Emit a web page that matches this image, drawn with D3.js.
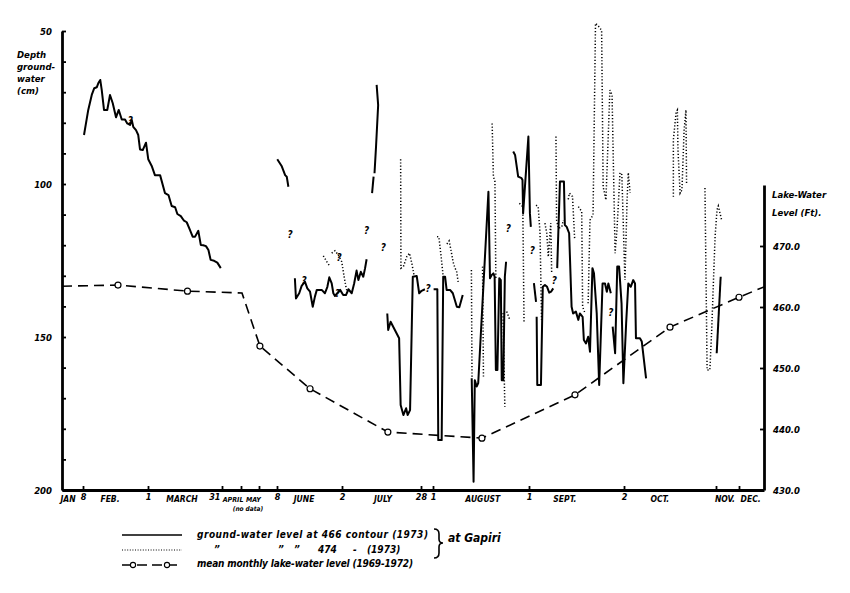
<!DOCTYPE html>
<html>
<head>
<meta charset="utf-8">
<script src="https://cdn.jsdelivr.net/npm/d3@7"></script>
<style>
  body { margin: 0; background: #fff; }
  text { font-family: "Liberation Sans Narrow", "DejaVu Sans Condensed", "DejaVu Sans", sans-serif; font-style: italic; font-weight: bold; fill: #000; }
</style>
</head>
<body>
<svg width="850" height="593"></svg>
<script>
// hand drawn time axis: day of year 1973 at the stops of the paper scale
const dayStops = [0, 8, 60, 90, 120, 151, 159, 183, 209, 213, 244, 275, 305, 335, 365];
const tickDays = [8, 60, 90, 120, 151, 159, 183, 209, 213, 244, 275, 305, 335];
const tickNames = ["8", "1", "31", "", "", "8", "2", "28", "1", "1", "2", "", ""];
const monthNames = ["JAN", "FEB.", "MARCH", "APRIL", "MAY", "JUNE", "JULY", "AUGUST", "SEPT.", "OCT.", "NOV.", "DEC."];
const monthDays = [2.3, 29.6, 73.8, 107.5, 141.5, 169, 196.5, 229.1, 255.7, 286.7, 316.7, 349];
const depthTicks = [50, 60, 70, 80, 90, 100, 110, 120, 130, 140, 150, 160, 170, 180, 190, 200];
const lakeTicks = [430, 440, 450, 460, 470];

// ground-water level at 466 contour, [day, depth cm], one list per drawn stretch
const ground466 = [
  [[8.8,84.0],[12.2,75.8],[15.0,70.9],[17.0,68.7],[19.0,68.4],[20.2,67.1],[21.8,66.0],[23.0,69.3],[24.8,75.8],[27.4,75.8],
   [29.6,70.9],[31.8,73.6],[34.4,78.2],[36.6,75.8],[39.0,78.9],[41.6,78.9],[43.4,80.2],[45.6,80.7],[47.0,79.1],[48.2,81.3],
   [50.4,82.4],[52.2,84.0],[53.6,88.7],[55.8,88.9],[58.4,86.5],[60.1,91.9],[61.5,94.1],[62.8,97.1],[64.9,97.1],[66.9,103.0],
   [68.3,103.6],[69.6,107.2],[71.0,107.6],[71.9,109.8],[73.3,110.5],[74.6,112.0],[75.7,112.5],[77.0,115.0],[78.1,117.2],
   [79.1,117.2],[80.4,115.3],[81.4,119.9],[82.4,120.0],[83.5,120.3],[84.5,121.6],[85.4,124.8],[86.8,125.1],[88.1,125.7],[89.5,127.5]],
  [[159.1,91.9],[160.7,94.1],[162.0,97.1],[162.6,97.6],[163.2,100.9]],
  [[165.6,130.8],[166.0,137.4],[167.2,135.7],[168.1,133.3],[169.3,131.9],[170.2,134.1],[171.2,135.2],[172.2,140.1],[173.0,136.8],
   [173.7,134.6],[175.5,134.6],[176.7,135.7],[177.6,133.6],[178.3,130.5],[179.2,132.5],[179.8,135.7],[180.4,136.6],[182.3,134.6],
   [183.4,136.3],[184.3,136.3],[185.1,134.4],[186.2,135.7],[187.0,132.5],[187.8,128.3],[188.4,131.4],[189.2,128.7],[190.0,130.3],
   [190.6,127.5],[191.1,124.6]],
  [[192.9,103.0],[193.4,97.6]],
  [[193.7,96.5],[194.2,87.8],[194.9,74.2],[194.4,67.6]],
  [[197.9,142.3],[198.2,147.7],[199.0,145.0],[200.4,147.7],[201.8,150.4],[202.3,172.2],[203.2,175.5],[204.1,173.3],[204.6,175.5],
   [205.4,173.9],[206.3,130.3],[207.6,130.1],[208.4,135.7],[209.2,134.9],[210.3,134.4]],
  [[213.2,134.4],[214.4,134.4],[214.7,183.7],[215.8,183.7],[216.3,130.3],[216.9,130.3],[217.4,134.6],[218.5,134.6],[219.4,135.7],
   [220.7,140.1],[221.5,140.3],[222.6,136.3]],
  [[225.5,163.5],[226.1,197.3],[226.5,164.1],[227.1,166.2],[227.6,165.1],[230.9,102.5],[231.4,130.8],[232.0,129.7],[232.5,129.2],
   [232.9,130.3],[233.3,160.8],[233.8,160.8],[234.4,130.8],[234.9,131.4],[235.2,164.1],[235.7,164.1],[236.2,130.3],[236.6,125.4]],
  [[238.9,89.4],[239.5,90.5],[240.5,97.6],[241.6,98.1],[241.9,98.7],[242.1,109.6],[243.8,84.5],[244.3,109.6],[244.6,114.0]],
  [[245.6,132.4],[246.3,138.5]],
  [[246.5,143.4],[246.7,165.7],[247.9,165.7],[248.5,133.6],[249.2,133.0],[249.9,133.6],[250.6,135.5],[251.2,135.2],[251.9,134.1]],
  [[253.2,127.5],[254.1,99.2],[255.4,99.2],[255.7,113.4],[256.3,114.0],[257.1,116.1],[257.9,140.1],[258.4,142.3],[259.3,141.7],
   [260.1,144.4],[260.6,142.3],[261.5,143.4],[261.9,151.0],[262.6,152.1],[263.3,149.9],[263.9,154.8],[264.7,127.5],[265.2,129.2],
   [266.1,142.3],[266.9,165.7],[268.0,132.5],[268.8,132.5],[269.4,135.2],[269.9,132.5],[270.7,135.7]],
  [[271.3,146.6],[272.1,155.3],[272.8,127.0],[273.4,127.0],[274.2,139.0],[274.8,165.1],[275.7,145.5],[276.4,132.5],[277.2,133.6],
   [278.0,131.4],[278.6,132.5],[278.9,150.4],[280.2,150.4],[280.8,151.5],[282.2,163.5]],
  [[305.9,155.3],[311.1,130.3]]
];

// ground-water level at 474 contour
const ground474 = [
  [[176.1,123.5],[177.4,125.4],[178.6,127.0]],
  [[179.2,122.6],[180.4,121.8],[181.6,123.2],[182.9,125.4],[183.7,130.3],[184.3,133.6],[184.8,135.7]],
  [[202.3,91.9],[202.4,127.5],[203.2,127.0],[204.3,123.8],[205.2,122.6],[206.0,126.0],[206.7,129.8]],
  [[214.3,117.2],[214.9,117.3],[215.6,123.5],[216.3,130.3]],
  [[217.5,119.6],[218.2,118.6],[218.8,121.6],[219.5,125.5],[220.1,127.5],[220.6,128.4],[221.2,132.5]],
  [[225.4,128.1],[225.6,163.1]],
  [[229.0,127.0],[229.3,163.6]],
  [[232.1,80.2],[232.5,97.6],[233.0,99.2],[233.3,131.4]],
  [[235.6,142.2],[236.2,172.8]],
  [[236.8,141.7],[237.8,144.4]],
  [[240.9,106.3],[242.0,107.4],[242.4,145.5]],
  [[246.3,106.9],[247.0,107.4],[247.6,116.1],[248.1,144.4]],
  [[249.2,112.8],[249.8,116.1],[250.3,123.8],[251.1,112.8],[251.4,129.2]],
  [[252.8,84.5],[253.0,111.8],[253.6,114.5],[254.7,114.0],[255.2,111.8]],
  [[256.8,105.0],[257.2,103.0],[258.2,104.1],[258.9,118.0]],
  [[260.1,107.4],[261.2,109.0],[261.5,140.1],[262.3,142.3]],
  [[263.3,139.0],[263.9,111.8],[264.9,110.1],[265.7,47.5],[266.5,48.2],[267.7,49.8],[268.2,100.9],[269.1,105.2],[270.4,69.3],
   [271.1,70.9],[272.1,122.6],[272.7,115.0],[273.7,96.3],[274.3,97.0],[275.3,131.4],[276.0,105.2],[276.4,96.3],[277.0,102.9]],
  [[291.1,104.2],[291.1,85.6],[292.0,76.5],[292.4,75.8],[292.6,88.9],[293.3,103.0],[293.9,101.9],[294.6,82.4],[295.2,75.8],[295.4,99.8]],
  [[301.4,101.3],[302.1,160.8],[303.0,160.8],[303.6,147.7],[304.1,133.7],[304.7,117.3],[306.3,108.5],[308.0,107.2],[310.2,109.5],[312.4,111.8]]
];

// mean monthly lake-water level (1969-1972), ft
const lakeDays = [0, 36, 76, 121.7, 151.4, 171.2, 198.1, 228.8, 259, 290, 335, 365];
const lakeLevels = [463.4, 463.6, 462.6, 462.3, 453.6, 446.6, 439.5, 438.5, 445.6, 456.7, 461.6, 463.3];
const lakeMarked = [false, true, true, false, true, true, true, true, true, true, true, false];

// doubtful readings marked "?"
const queryDays = [45.8, 163.8, 169.0, 181.9, 181.4, 191.1, 196.6, 211.4, 237.3, 245.1, 252.3, 270.7];
const queryDepths = [79.1, 116.3, 131.4, 123.8, 135.7, 115.0, 120.5, 134.1, 114.5, 121.6, 131.4, 141.7];

const svg = d3.select("svg");
const plotLeft = 62, plotRight = 764, plotTop = 31, plotBottom = 490;

const x = d3.scaleLinear()
  .domain(dayStops)
  .range([62, 83, 148, 222, 241, 259, 277, 342, 421, 433, 529, 624, 716, 739, 764]);
const y = d3.scaleLinear().domain([50, 200]).range([plotTop, plotBottom]);
const yLake = d3.scaleLinear().domain([430, 480]).range([plotBottom, 185]);

function styleAxis(g, size) {
  g.select(".domain").attr("stroke", "#000").attr("stroke-width", 2.8);
  g.selectAll(".tick line").attr("stroke", "#000").attr("stroke-width", 1.8);
  g.selectAll(".tick text").attr("font-size", size).attr("font-family", null);
}

// left axis
const gLeft = svg.append("g")
  .attr("transform", `translate(${plotLeft},0)`)
  .call(d3.axisLeft(y).tickValues(depthTicks).tickSizeInner(-4).tickSizeOuter(0).tickPadding(10)
    .tickFormat(d => d % 50 === 0 ? d : ""));
styleAxis(gLeft, 9.5);

// right axis
const gRight = svg.append("g")
  .attr("transform", `translate(${plotRight},0)`)
  .call(d3.axisRight(yLake).tickValues(lakeTicks).tickSizeInner(-4).tickSizeOuter(0).tickPadding(9)
    .tickFormat(d3.format(".1f")));
styleAxis(gRight, 9.5);

// bottom axis
const gBottom = svg.append("g")
  .attr("transform", `translate(0,${plotBottom})`)
  .call(d3.axisBottom(x).tickValues(tickDays).tickSizeInner(-4).tickSizeOuter(0).tickPadding(4)
    .tickFormat((d, i) => tickNames[i]));
styleAxis(gBottom, 9);
gBottom.selectAll(".tick text").filter(d => d === 90).attr("text-anchor", "end").attr("dx", -2);

svg.append("g").selectAll("text")
  .data(monthNames)
  .join("text")
  .attr("x", (d, i) => x(monthDays[i]))
  .attr("y", 502)
  .attr("text-anchor", "middle")
  .attr("font-size", d => d === "APRIL" || d === "MAY" ? 7 : 8.5)
  .text(d => d);

svg.append("text").attr("x", x(132)).attr("y", 511).attr("text-anchor", "middle")
  .attr("font-size", 6.5).text("(no data)");

// axis titles
const leftTitle = ["Depth", "ground-", "water", "(cm)"];
svg.append("g").selectAll("text")
  .data(leftTitle)
  .join("text")
  .attr("x", 17)
  .attr("y", (d, i) => 58 + i * 12)
  .attr("font-size", 9.5)
  .text(d => d);

const rightTitle = ["Lake-Water", "Level (Ft)."];
svg.append("g").selectAll("text")
  .data(rightTitle)
  .join("text")
  .attr("x", 772)
  .attr("y", (d, i) => 198 + i * 18)
  .attr("font-size", 9.5)
  .text(d => d);

// data
const line = d3.line().x(d => x(d[0])).y(d => y(d[1]));

svg.append("g").selectAll("path")
  .data(ground466)
  .join("path")
  .attr("d", line)
  .attr("fill", "none")
  .attr("stroke", "#000")
  .attr("stroke-width", 2)
  .attr("stroke-linejoin", "round");

svg.append("g").selectAll("path")
  .data(ground474)
  .join("path")
  .attr("d", line)
  .attr("fill", "none")
  .attr("stroke", "#000")
  .attr("stroke-width", 1.5)
  .attr("stroke-dasharray", "1.2,2");

const lakePts = lakeDays.map((d, i) => [d, lakeLevels[i]]);
const lakeLine = d3.line().x(d => x(d[0])).y(d => yLake(d[1]));
svg.append("path")
  .attr("d", lakeLine(lakePts))
  .attr("fill", "none")
  .attr("stroke", "#000")
  .attr("stroke-width", 1.6)
  .attr("stroke-dasharray", "10,6");

svg.append("g").selectAll("circle")
  .data(lakePts.filter((d, i) => lakeMarked[i]))
  .join("circle")
  .attr("cx", d => x(d[0]))
  .attr("cy", d => yLake(d[1]))
  .attr("r", 3)
  .attr("fill", "#fff")
  .attr("stroke", "#000")
  .attr("stroke-width", 1.2);

svg.append("g").selectAll("text")
  .data(queryDays)
  .join("text")
  .attr("x", d => x(d))
  .attr("y", (d, i) => y(queryDepths[i]) + 4)
  .attr("text-anchor", "middle")
  .attr("font-size", 10)
  .text("?");

// legend
const lg = svg.append("g");
lg.append("line").attr("x1", 122).attr("x2", 182).attr("y1", 535).attr("y2", 535)
  .attr("stroke", "#000").attr("stroke-width", 1.3);
lg.append("line").attr("x1", 122).attr("x2", 182).attr("y1", 550).attr("y2", 550)
  .attr("stroke", "#000").attr("stroke-width", 1.2).attr("stroke-dasharray", "1,1.6");
lg.append("line").attr("x1", 122).attr("x2", 182).attr("y1", 565).attr("y2", 565)
  .attr("stroke", "#000").attr("stroke-width", 1.5).attr("stroke-dasharray", "10,5");
lg.selectAll("circle").data([133, 167]).join("circle")
  .attr("cx", d => d).attr("cy", 565).attr("r", 2.6)
  .attr("fill", "#fff").attr("stroke", "#000").attr("stroke-width", 1.1);

lg.append("text").attr("x", 197).attr("y", 538).attr("font-size", 10)
  .attr("textLength", 231).attr("lengthAdjust", "spacing")
  .text("ground-water level at 466 contour (1973)");
const ditto = [["\u201D", 214], ["\u201D", 278], ["\u201D", 294], ["474", 318], ["-", 353], ["(1973)", 367]];
lg.selectAll("text.ditto").data(ditto).join("text").attr("class", "ditto")
  .attr("x", d => d[1]).attr("y", 553).attr("font-size", 10).text(d => d[0]);
lg.append("text").attr("x", 197).attr("y", 567).attr("font-size", 10)
  .attr("textLength", 216).attr("lengthAdjust", "spacing")
  .text("mean monthly lake-water level (1969-1972)");

// hand drawn brace joining the two ground-water rows
lg.append("path")
  .attr("d", "M434,529 Q439,529 439,534 L439,539 Q439,543 443,543 Q439,543 439,547 L439,553 Q439,558 434,558")
  .attr("fill", "none").attr("stroke", "#000").attr("stroke-width", 1.6);
lg.append("text").attr("x", 448).attr("y", 542).attr("font-size", 12).text("at Gapiri");
</script>
</body>
</html>
